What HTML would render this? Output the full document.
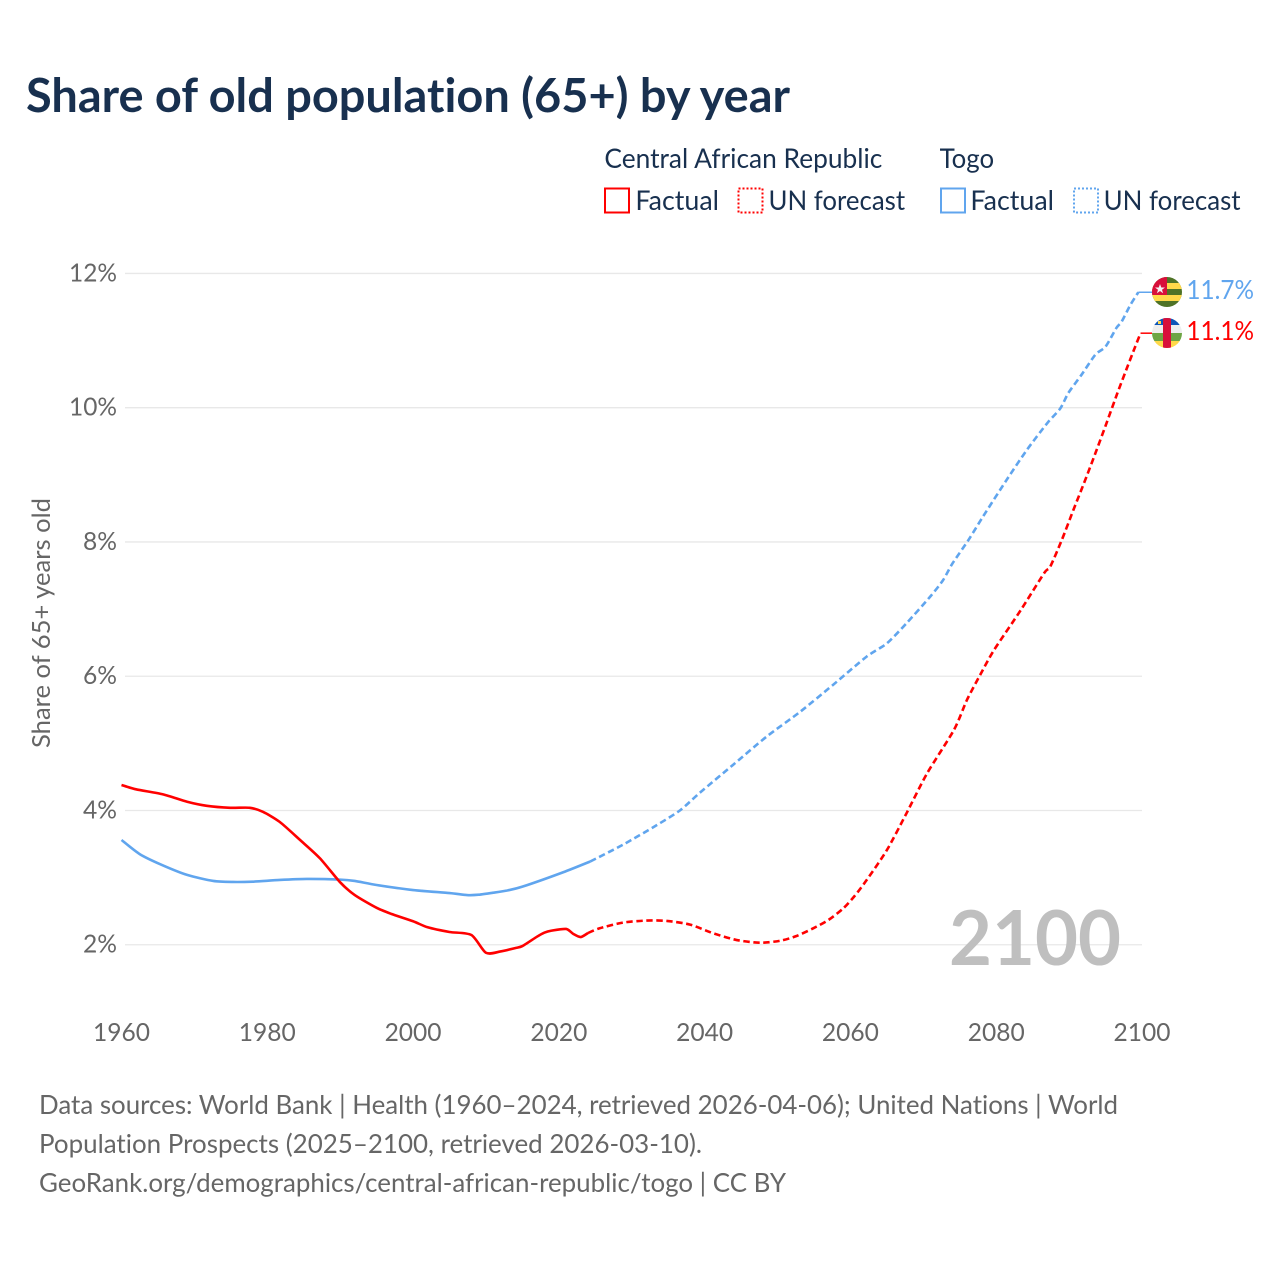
<!DOCTYPE html>
<html lang="en">
<head>
<meta charset="utf-8">
<title>Share of old population (65+) by year</title>
<style>
html,body{margin:0;padding:0;background:#fff}
svg{display:block}
text{font-family:"Lato","Carlito","Liberation Sans",sans-serif;font-variant-ligatures:none}
</style>
</head>
<body>
<svg id="chart" xmlns="http://www.w3.org/2000/svg" width="1280" height="1280" viewBox="0 0 1280 1280">
  <defs>
    <clipPath id="clip-togo"><circle cx="1167" cy="292" r="15"/></clipPath>
    <clipPath id="clip-car"><circle cx="1167" cy="333" r="15"/></clipPath>
  </defs>
  <rect width="1280" height="1280" fill="#fff"/>
  <text x="26" y="112" font-size="47" font-weight="700" fill="#18304f" textLength="764" lengthAdjust="spacingAndGlyphs">Share of old population (65+) by year</text>

  <g font-size="27" fill="#18304f">
    <text x="604.4" y="168" textLength="278" lengthAdjust="spacingAndGlyphs">Central African Republic</text>
    <text x="939.6" y="168" textLength="54.5" lengthAdjust="spacingAndGlyphs">Togo</text>
    <rect x="605" y="188.5" width="24" height="24" fill="none" stroke="#ff0000" stroke-width="2"/>
    <text x="635.4" y="210" textLength="83.6" lengthAdjust="spacingAndGlyphs">Factual</text>
    <rect x="738.5" y="188.5" width="24" height="24" fill="none" stroke="#ff0000" stroke-width="2" stroke-dasharray="2 2"/>
    <text x="768.5" y="210" textLength="136.6" lengthAdjust="spacingAndGlyphs">UN forecast</text>
    <rect x="941" y="188.5" width="24" height="24" fill="none" stroke="#60a5ee" stroke-width="2"/>
    <text x="970.4" y="210" textLength="83.6" lengthAdjust="spacingAndGlyphs">Factual</text>
    <rect x="1074" y="188.5" width="24" height="24" fill="none" stroke="#60a5ee" stroke-width="2" stroke-dasharray="2 2"/>
    <text x="1103.6" y="210" textLength="137" lengthAdjust="spacingAndGlyphs">UN forecast</text>
  </g>

  <g id="grid"></g>
  <g id="yticks" font-size="25" fill="#666"></g>
  <g id="xticks" font-size="25" fill="#666"></g>
  <text transform="translate(50,623) rotate(-90)" text-anchor="middle" font-size="25" fill="#666" textLength="250" lengthAdjust="spacingAndGlyphs">Share of 65+ years old</text>

  <text x="949" y="965" font-size="76" font-weight="700" fill="#bfbfbf" textLength="172" lengthAdjust="spacingAndGlyphs">2100</text>

  <g id="series"></g>

  <g clip-path="url(#clip-togo)">
    <rect x="1152" y="277" width="30" height="30" fill="#4f7327"/>
    <rect x="1152" y="283" width="30" height="6" fill="#ffd94a"/>
    <rect x="1152" y="295" width="30" height="6" fill="#ffd94a"/>
    <rect x="1152" y="277" width="15" height="18" fill="#d80f3a"/>
    <polygon points="1160,284 1161.3,287.5 1165,287.5 1162,289.7 1163.1,293.2 1160,291 1156.9,293.2 1158,289.7 1155,287.5 1158.7,287.5" fill="#f3f3f3"/>
  </g>
  <g clip-path="url(#clip-car)">
    <rect x="1152" y="318" width="30" height="7" fill="#0f56b8"/>
    <rect x="1152" y="325" width="30" height="8" fill="#eeeeee"/>
    <rect x="1152" y="333" width="30" height="8" fill="#6da544"/>
    <rect x="1152" y="341" width="30" height="7" fill="#ffd94a"/>
    <rect x="1163" y="318" width="8" height="30" fill="#d80f3a"/>
    <rect x="1158" y="321" width="3" height="3" fill="#ffd94a"/>
  </g>
  <text x="1186.4" y="299" font-size="26" fill="#60a5ee" textLength="67.6" lengthAdjust="spacingAndGlyphs">11.7%</text>
  <text x="1186.4" y="340" font-size="26" fill="#ff0000" textLength="67.6" lengthAdjust="spacingAndGlyphs">11.1%</text>

  <g font-size="26" fill="#666">
    <text x="39" y="1114" textLength="1079" lengthAdjust="spacingAndGlyphs">Data sources: World Bank | Health (1960–2024, retrieved 2026-04-06); United Nations | World</text>
    <text x="39" y="1153" textLength="663" lengthAdjust="spacingAndGlyphs">Population Prospects (2025–2100, retrieved 2026-03-10).</text>
    <text x="39" y="1192" textLength="747" lengthAdjust="spacingAndGlyphs">GeoRank.org/demographics/central-african-republic/togo | CC BY</text>
  </g>
</svg>
<script>
const yTickValues = [2, 4, 6, 8, 10, 12];
const yTickLabels = ["2%", "4%", "6%", "8%", "10%", "12%"];
const xTickValues = [1960, 1980, 2000, 2020, 2040, 2060, 2080, 2100];
const xTickLabels = ["1960", "1980", "2000", "2020", "2040", "2060", "2080", "2100"];

const carFactualYears = [1960,1962,1965.7,1969,1971.7,1974.9,1977.6,1979.4,1981.7,1984.5,1987.2,1990,1992,1995,1997,2000,2002,2005,2008,2010,2012,2014,2015,2017,2018,2019,2021,2022,2023,2024];
const carFactualValues = [4.38,4.315,4.24,4.13,4.07,4.04,4.04,3.98,3.83,3.56,3.29,2.93,2.74,2.55,2.46,2.35,2.26,2.19,2.145,1.88,1.9,1.95,1.98,2.12,2.18,2.21,2.235,2.16,2.115,2.175];
const carForecastYears = [2024,2025.6,2028.8,2032,2034.8,2038,2041.2,2044.4,2047.6,2050.4,2052.6,2054.9,2057,2059,2060.6,2062.2,2065,2067.7,2070.5,2074.2,2076,2077.9,2079.7,2083.4,2086.6,2087.4,2089,2090.6,2092.2,2093.6,2095.2,2096.6,2098,2099,2099.8];
const carForecastValues = [2.175,2.245,2.33,2.36,2.355,2.3,2.17,2.07,2.03,2.06,2.13,2.245,2.37,2.54,2.73,2.96,3.41,3.96,4.55,5.2,5.65,6.04,6.39,6.99,7.54,7.63,8.03,8.48,8.92,9.32,9.79,10.21,10.61,10.89,11.11];

const togoFactualYears = [1960,1962.5,1965.3,1969,1972.6,1975.3,1978,1981.7,1985.4,1990,1992,1995,2000,2005,2007.4,2009,2011,2013,2015,2020.6,2024.3];
const togoFactualValues = [3.56,3.35,3.2,3.04,2.95,2.935,2.94,2.965,2.98,2.97,2.95,2.89,2.815,2.77,2.74,2.745,2.775,2.81,2.865,3.08,3.24];
const togoForecastYears = [2024.3,2028.8,2033.4,2036.6,2039.3,2043.9,2048.5,2053.1,2057.6,2062.2,2065,2067.7,2070.9,2072.7,2074,2076.2,2078.2,2081.4,2084.2,2087,2088.8,2089.9,2091.7,2093.6,2095,2096.5,2097.2,2098.4,2099.5];
const togoForecastValues = [3.24,3.49,3.78,4.0,4.26,4.68,5.1,5.47,5.87,6.29,6.49,6.79,7.18,7.43,7.68,8.03,8.38,8.92,9.37,9.77,9.99,10.22,10.49,10.79,10.91,11.19,11.28,11.53,11.72];

const xScale = function (year) { return 121.5 + (year - 1960) * (1142 - 121.5) / 140; };
const yScale = function (value) { return 1079 - value * 67.13; };
const svgNS = "http://www.w3.org/2000/svg";
const flagEdgeX = 1152;

const gridGroup = document.getElementById("grid");
const yGroup = document.getElementById("yticks");
const xGroup = document.getElementById("xticks");
const seriesGroup = document.getElementById("series");

yTickValues.forEach(function (value, i) {
  const line = document.createElementNS(svgNS, "line");
  
  
  line.setAttribute("x1", 125);
  line.setAttribute("x2", 1142);
  line.setAttribute("y1", yScale(value));
  line.setAttribute("y2", yScale(value));
  line.setAttribute("stroke", "#e8e8e8");
  line.setAttribute("stroke-width", 1.3);
  gridGroup.appendChild(line);

  const label = document.createElementNS(svgNS, "text");
  
  
  label.setAttribute("x", 117);
  label.setAttribute("y", yScale(value) + 8);
  label.setAttribute("text-anchor", "end");
  label.setAttribute("textLength", yTickLabels[i].length > 2 ? 48 : 34);
  label.setAttribute("lengthAdjust", "spacingAndGlyphs");
  label.textContent = yTickLabels[i];
  yGroup.appendChild(label);
});

xTickValues.forEach(function (year, i) {
  const label = document.createElementNS(svgNS, "text");
  
  
  label.setAttribute("x", xScale(year));
  label.setAttribute("y", 1041);
  label.setAttribute("text-anchor", "middle");
  label.setAttribute("textLength", 57);
  label.setAttribute("lengthAdjust", "spacingAndGlyphs");
  label.textContent = xTickLabels[i];
  xGroup.appendChild(label);
});

function linePath(years, values) {
  const pts = years.map(function (year, i) { return [xScale(year), yScale(values[i])]; });
  let d = "M" + pts[0][0].toFixed(2) + " " + pts[0][1].toFixed(2);
  for (let i = 0; i < pts.length - 1; i++) {
    const p0 = pts[Math.max(i - 1, 0)];
    const p1 = pts[i];
    const p2 = pts[i + 1];
    const p3 = pts[Math.min(i + 2, pts.length - 1)];
    const c1x = p1[0] + (p2[0] - p0[0]) / 8;
    const c1y = p1[1] + (p2[1] - p0[1]) / 8;
    const c2x = p2[0] - (p3[0] - p1[0]) / 8;
    const c2y = p2[1] - (p3[1] - p1[1]) / 8;
    d += "C" + c1x.toFixed(2) + " " + c1y.toFixed(2) + " " + c2x.toFixed(2) + " " + c2y.toFixed(2) + " " + p2[0].toFixed(2) + " " + p2[1].toFixed(2);
  }
  return d;
}

function connectorPath(years, values) {
  const last = years.length - 1;
  return "M" + xScale(years[last]).toFixed(2) + " " + yScale(values[last]).toFixed(2) + "H" + flagEdgeX;
}

const carFactualLine = document.createElementNS(svgNS, "path");


carFactualLine.setAttribute("d", linePath(carFactualYears, carFactualValues));
carFactualLine.setAttribute("fill", "none");
carFactualLine.setAttribute("stroke", "#ff0000");
carFactualLine.setAttribute("stroke-width", 2.6);
carFactualLine.setAttribute("stroke-linejoin", "round");

const carForecastLine = document.createElementNS(svgNS, "path");


carForecastLine.setAttribute("d", linePath(carForecastYears, carForecastValues));
carForecastLine.setAttribute("fill", "none");
carForecastLine.setAttribute("stroke", "#ff0000");
carForecastLine.setAttribute("stroke-width", 2.6);
carForecastLine.setAttribute("stroke-dasharray", "6.4 3.6");

const carConnector = document.createElementNS(svgNS, "path");


carConnector.setAttribute("d", connectorPath(carForecastYears, carForecastValues));
carConnector.setAttribute("fill", "none");
carConnector.setAttribute("stroke", "#ff0000");
carConnector.setAttribute("stroke-width", 1.5);

const togoFactualLine = document.createElementNS(svgNS, "path");


togoFactualLine.setAttribute("d", linePath(togoFactualYears, togoFactualValues));
togoFactualLine.setAttribute("fill", "none");
togoFactualLine.setAttribute("stroke", "#60a5ee");
togoFactualLine.setAttribute("stroke-width", 2.6);
togoFactualLine.setAttribute("stroke-linejoin", "round");

const togoForecastLine = document.createElementNS(svgNS, "path");


togoForecastLine.setAttribute("d", linePath(togoForecastYears, togoForecastValues));
togoForecastLine.setAttribute("fill", "none");
togoForecastLine.setAttribute("stroke", "#60a5ee");
togoForecastLine.setAttribute("stroke-width", 2.6);
togoForecastLine.setAttribute("stroke-dasharray", "6.4 3.6");

const togoConnector = document.createElementNS(svgNS, "path");


togoConnector.setAttribute("d", connectorPath(togoForecastYears, togoForecastValues));
togoConnector.setAttribute("fill", "none");
togoConnector.setAttribute("stroke", "#60a5ee");
togoConnector.setAttribute("stroke-width", 1.5);

seriesGroup.appendChild(togoFactualLine);
seriesGroup.appendChild(togoForecastLine);
seriesGroup.appendChild(togoConnector);
seriesGroup.appendChild(carFactualLine);
seriesGroup.appendChild(carForecastLine);
seriesGroup.appendChild(carConnector);
</script>
</body>
</html>
